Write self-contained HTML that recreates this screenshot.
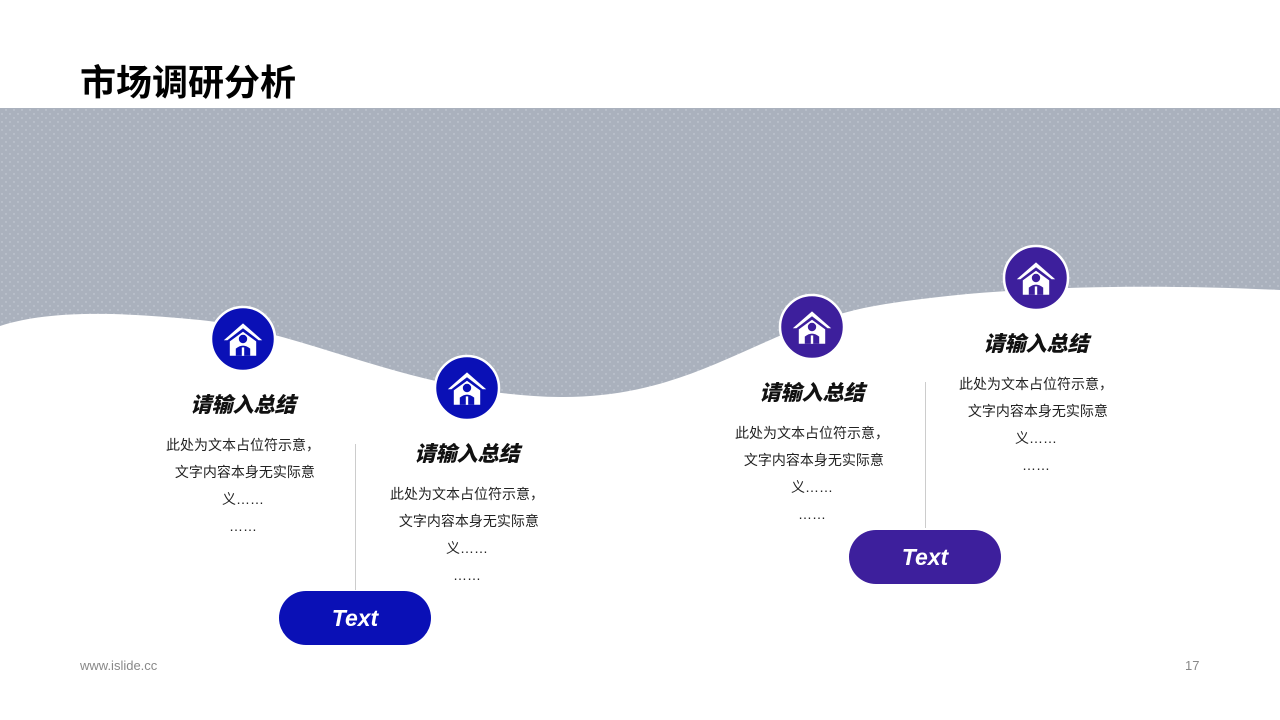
<!DOCTYPE html>
<html><head><meta charset="utf-8"><style>
body{margin:0;width:1280px;height:720px;position:relative;background:#fff;font-family:"Liberation Sans","Noto Sans CJK SC",sans-serif;overflow:hidden}
.a{position:absolute}
h1{position:absolute;left:80px;top:54px;margin:0;font-size:36px;font-weight:bold;color:#000}
.t{position:absolute;width:220px;text-align:center;font-size:21px;font-weight:900;font-style:italic;color:#111}
.b{position:absolute;width:180px;text-align:center;font-size:14px;line-height:27px;color:#222}
.btn{position:absolute;width:152px;height:54px;border-radius:27px;color:#fff;font-size:23px;font-weight:bold;font-style:italic;text-align:center;line-height:54px}
</style></head><body>
<h1>市场调研分析</h1>
<svg class="a" style="left:0;top:0" width="1280" height="720">
<defs><pattern id="p" width="8" height="8" patternUnits="userSpaceOnUse">
<rect width="8" height="8" fill="#aab1bd"/><circle cx="2" cy="2" r="0.7" fill="#ccd1da"/><circle cx="6" cy="6" r="0.7" fill="#ccd1da"/></pattern>
<g id="ic" transform="scale(1.2)"><path d="M-16,1 L0,-13 L16,1 L13,1 L0,-9 L-13,1Z" fill="#fff"/><path d="M-11,2 V14 H11 V2 L0,-6Z" fill="#fff"/><circle cx="0" cy="0" r="3.5" fill="currentColor"/><path d="M-6,14 V8 Q0,3 6,8 V14Z" fill="currentColor"/><path d="M-1,7 L1,7 L1,14 L-1,14Z" fill="#fff"/></g></defs>
<path d="M0,108 H1280 V290 C1150,284 1000,285 880,305 C760,325 700,398 560,397 C420,396 300,330 200,320 C120,312 50,310 0,326 Z" fill="url(#p)"/>
<line x1="355.5" y1="444" x2="355.5" y2="590" stroke="#ccc"/>
<line x1="925.5" y1="382" x2="925.5" y2="528" stroke="#ccc"/>
<g color="#0a10b6"><circle cx="243" cy="339" r="32" fill="#0a10b6" stroke="#fff" stroke-width="2.5"/><use href="#ic" x="243" y="339"/>
<circle cx="467" cy="388" r="32" fill="#0a10b6" stroke="#fff" stroke-width="2.5"/><use href="#ic" x="467" y="388"/></g>
<g color="#3d1f9c"><circle cx="812" cy="327" r="32" fill="#3d1f9c" stroke="#fff" stroke-width="2.5"/><use href="#ic" x="812" y="327"/>
<circle cx="1036" cy="278" r="32" fill="#3d1f9c" stroke="#fff" stroke-width="2.5"/><use href="#ic" x="1036" y="278"/></g>
</svg>
<div class="t" style="left:133px;top:389px">请输入总结</div>
<div class="b" style="left:153px;top:432px">此处为文本占位符示意，<br>&nbsp;文字内容本身无实际意<br>义……<br>……</div>
<div class="t" style="left:357px;top:438px">请输入总结</div>
<div class="b" style="left:377px;top:481px">此处为文本占位符示意，<br>&nbsp;文字内容本身无实际意<br>义……<br>……</div>
<div class="t" style="left:702px;top:377px">请输入总结</div>
<div class="b" style="left:722px;top:420px">此处为文本占位符示意，<br>&nbsp;文字内容本身无实际意<br>义……<br>……</div>
<div class="t" style="left:926px;top:328px">请输入总结</div>
<div class="b" style="left:946px;top:371px">此处为文本占位符示意，<br>&nbsp;文字内容本身无实际意<br>义……<br>……</div>
<div class="btn" style="left:279px;top:591px;background:#0a10b6">Text</div>
<div class="btn" style="left:849px;top:530px;background:#3d1f9c">Text</div>
<div class="a" style="left:80px;top:658px;font-size:13px;color:#888">www.islide.cc</div>
<div class="a" style="left:1185px;top:658px;font-size:13px;color:#888">17</div>
</body></html>
